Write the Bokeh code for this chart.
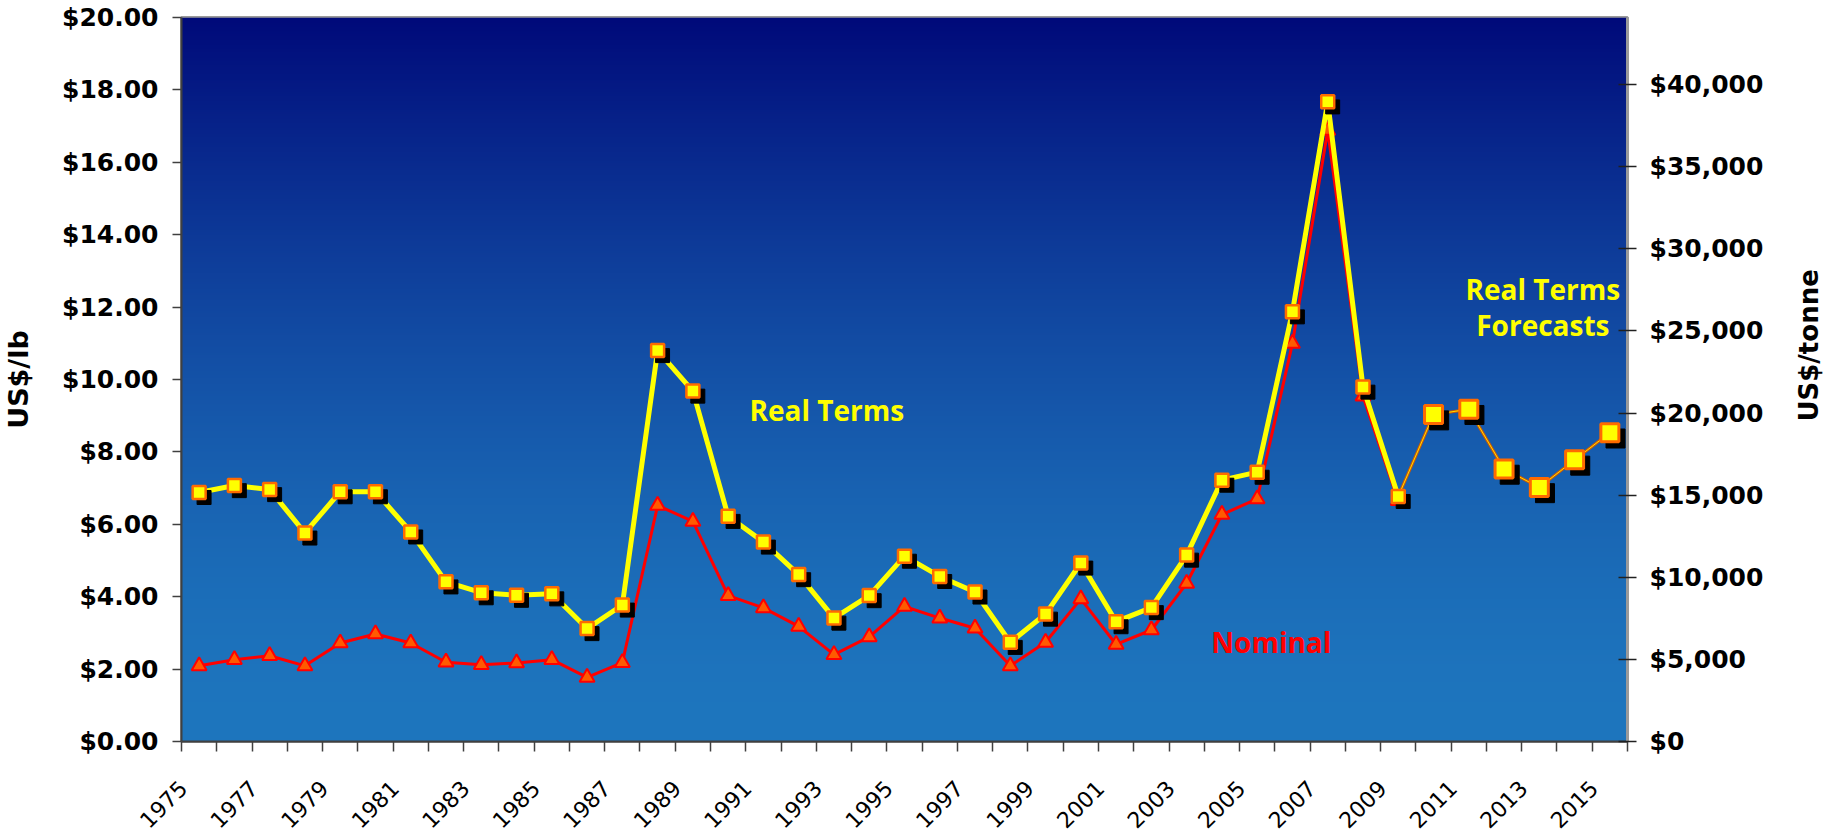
import math
import numpy as np
from bokeh.plotting import figure
from bokeh.layouts import row
from bokeh.models import (Range1d, LinearAxis, FixedTicker, SingleIntervalTicker,
                          NumeralTickFormatter, ColumnDataSource, Label)
from bokeh.core.properties import value
from bokeh.transform import dodge
from bokeh.embed import file_html
from bokeh.resources import INLINE

# ---------------- data ----------------
years = [1975, 1976, 1977, 1978, 1979, 1980, 1981, 1982, 1983, 1984,
         1985, 1986, 1987, 1988, 1989, 1990, 1991, 1992, 1993, 1994,
         1995, 1996, 1997, 1998, 1999, 2000, 2001, 2002, 2003, 2004,
         2005, 2006, 2007, 2008, 2009, 2010, 2011, 2012, 2013, 2014, 2015]
real_terms = [6.88, 7.07, 6.96, 5.76, 6.90, 6.90, 5.79, 4.41, 4.11, 4.04,
              4.08, 3.12, 3.77, 10.80, 9.68, 6.22, 5.51, 4.61, 3.41, 4.03,
              5.12, 4.56, 4.13, 2.74, 3.52, 4.93, 3.31, 3.70, 5.15, 7.22,
              7.44, 11.87, 17.67, 9.79, 6.77, 9.03, 9.18, 7.53, 7.02, 7.78, 8.53]
nominal_years = years[:35]
nominal = [2.09, 2.26, 2.37, 2.09, 2.72, 2.97, 2.72, 2.19, 2.12, 2.17,
           2.26, 1.77, 2.18, 6.52, 6.08, 4.03, 3.69, 3.18, 2.40, 2.89,
           3.73, 3.41, 3.13, 2.09, 2.74, 3.94, 2.68, 3.08, 4.37, 6.27,
           6.70, 11.00, 16.88, 9.54, 6.65]
hist_years, hist_real = years[:35], real_terms[:35]
fc_years, fc_real = years[34:], real_terms[34:]
fc_mark_years, fc_mark_real = years[35:], real_terms[35:]
label_years = years[::2]
LB_PER_TONNE = 2204.62

# ---------------- layout constants ----------------
FRAME_W, FRAME_H = 1453, 725
B_LEFT, B_RIGHT, B_TOP, B_BOTTOM = 176, 137, 17, 96
P_W = B_LEFT + FRAME_W + B_RIGHT
P_H = B_TOP + FRAME_H + B_BOTTOM
T_W = 1829 - P_W

# ---------------- figure ----------------
p = figure(width=P_W, height=P_H,
           x_range=Range1d(years[0] - 0.5, years[-1] + 0.5),
           y_range=Range1d(0, 20),
           output_backend="svg", toolbar_location=None,
           min_border_left=B_LEFT, min_border_right=B_RIGHT,
           min_border_top=B_TOP, min_border_bottom=B_BOTTOM)
p.extra_y_ranges = {"tonne": Range1d(0, 20 * LB_PER_TONNE)}

# gradient background
n = 400
t = np.linspace(0.0, 1.0, n) ** 1.6
bottom_c = np.array([30, 118, 190])
top_c = np.array([0, 10, 122])
cols = bottom_c[None, :] + (top_c - bottom_c)[None, :] * t[:, None]
img = np.empty((n, 1), dtype=np.uint32)
view = img.view(dtype=np.uint8).reshape((n, 1, 4))
view[:, 0, 0] = cols[:, 0]
view[:, 0, 1] = cols[:, 1]
view[:, 0, 2] = cols[:, 2]
view[:, 0, 3] = 255
p.image_rgba(image=[img], x=years[0] - 0.5, y=0, dw=len(years), dh=20)

p.background_fill_color = "#1E76BE"
p.border_fill_color = "white"
p.outline_line_color = "#9a9a9a"
p.outline_line_width = 3

# grid
p.xgrid.grid_line_color = None
p.ygrid.grid_line_color = "#7FAEE6"
p.ygrid.grid_line_alpha = 0.85
p.ygrid.grid_line_width = 1
p.ygrid.level = "image"

# left axis
yax = p.yaxis[0]
yax.ticker = SingleIntervalTicker(interval=2, num_minor_ticks=0)
yax.formatter = NumeralTickFormatter(format="$0.00")
yax.axis_label = "US$/lb"
yax.axis_label_text_font = "DejaVu Sans"
yax.axis_label_text_font_style = "bold"
yax.axis_label_text_font_size = "27px"
yax.axis_label_text_color = "black"
yax.axis_label_standoff = 25
yax.major_label_text_font = "DejaVu Sans"
yax.major_label_text_font_style = "bold"
yax.major_label_text_font_size = "25px"
yax.major_label_text_color = "black"
yax.major_label_standoff = 14
yax.major_tick_out = 9
yax.major_tick_in = 0
yax.major_tick_line_color = "#404040"
yax.major_tick_line_width = 1.5
yax.minor_tick_line_color = None
yax.axis_line_color = "#404040"
yax.axis_line_width = 2

# right axis
rax = LinearAxis(y_range_name="tonne",
                 ticker=SingleIntervalTicker(interval=5000, num_minor_ticks=0),
                 formatter=NumeralTickFormatter(format="$0,0"))
rax.major_label_text_font = "DejaVu Sans"
rax.major_label_text_font_style = "bold"
rax.major_label_text_font_size = "25px"
rax.major_label_text_color = "black"
rax.major_label_standoff = 13
rax.major_tick_out = 9
rax.major_tick_in = 9
rax.major_tick_line_color = "#202020"
rax.major_tick_line_width = 1.5
rax.minor_tick_line_color = None
rax.axis_line_color = "#9a9a9a"
rax.axis_line_width = 3
p.add_layout(rax, "right")

# bottom axis: rotated year labels every second year, ticks between categories
boundaries = [y - 0.5 for y in years] + [years[-1] + 0.5]
label_pos = [round(y - 0.45, 2) for y in label_years]
xax = p.xaxis[0]
xax.ticker = FixedTicker(ticks=label_pos, minor_ticks=boundaries)
xax.major_label_overrides = {pos: str(y) for pos, y in zip(label_pos, label_years)}
xax.major_tick_out = 0
xax.major_tick_in = 0
xax.minor_tick_out = 10
xax.minor_tick_in = 0
xax.minor_tick_line_color = "#404040"
xax.minor_tick_line_width = 1.5
xax.axis_line_color = "#404040"
xax.axis_line_width = 2
xax.major_label_orientation = math.pi / 4
xax.major_label_text_font = "DejaVu Sans"
xax.major_label_text_font_size = "22px"
xax.major_label_text_color = "black"
xax.major_label_standoff = 33

# ---------------- series ----------------
nom_src = ColumnDataSource(dict(x=nominal_years, y=nominal))
hist_src = ColumnDataSource(dict(x=hist_years, y=hist_real))
fc_src = ColumnDataSource(dict(x=fc_years, y=fc_real))
fcm_src = ColumnDataSource(dict(x=fc_mark_years, y=fc_mark_real))

# nominal
p.line("x", "y", source=nom_src, line_color="#FF0000", line_width=3)
p.scatter("x", "y", source=nom_src, marker="triangle", size=15,
          fill_color="#FF5A00", line_color="#FF0000", line_width=2)

# real terms
p.line("x", "y", source=hist_src, line_color="#FFFF00", line_width=5)
p.line("x", "y", source=fc_src, line_color="#D05A00", line_width=3)
p.line("x", "y", source=fc_src, line_color="#FFE000", line_width=1)

# shadows
p.scatter(dodge("x", 0.14), dodge("y", -0.14), source=hist_src, marker="square",
          size=14, fill_color="black", line_color="black", line_width=1)
p.scatter(dodge("x", 0.16), dodge("y", -0.16), source=fcm_src, marker="square",
          size=19, fill_color="black", line_color="black", line_width=1)
# squares
p.scatter("x", "y", source=hist_src, marker="square", size=13,
          fill_color="#FFFF00", line_color="#FF6A00", line_width=2.5)
p.scatter("x", "y", source=fcm_src, marker="square", size=18,
          fill_color="#FFFF00", line_color="#FF6A00", line_width=3)

# ---------------- annotations ----------------
def add_label(x, y, text, color):
    p.add_layout(Label(x=x, y=y, text=text, text_color=color,
                       text_font="Open Sans", text_font_style="bold",
                       text_font_size="28px", text_align="center",
                       text_baseline="middle"))

add_label(1992.8, 9.15, "Real Terms", "#FFFF00")
add_label(2005.4, 2.75, "Nominal", "#FF0000")
add_label(2013.1, 12.5, "Real Terms", "#FFFF00")
add_label(2013.1, 11.5, "Forecasts", "#FFFF00")

# ---------------- right axis title (reads bottom-to-top) ----------------
q = figure(width=T_W, height=P_H, x_range=Range1d(0, T_W), y_range=Range1d(0, P_H),
           output_backend="svg", toolbar_location=None,
           x_axis_type=None, y_axis_type=None, min_border=0)
q.outline_line_color = None
q.grid.grid_line_color = None
q.background_fill_color = "white"
q.border_fill_color = "white"
q.text(x=[42], y=[P_H - (B_TOP + FRAME_H / 2)], text=["US$/tonne"], angle=math.pi / 2,
       text_font=value("DejaVu Sans"), text_font_style="bold", text_font_size="26px",
       text_color="black", text_align="center", text_baseline="middle")

layout = row(p, q, spacing=0)
open("out.html", "w").write(file_html(layout, INLINE))
